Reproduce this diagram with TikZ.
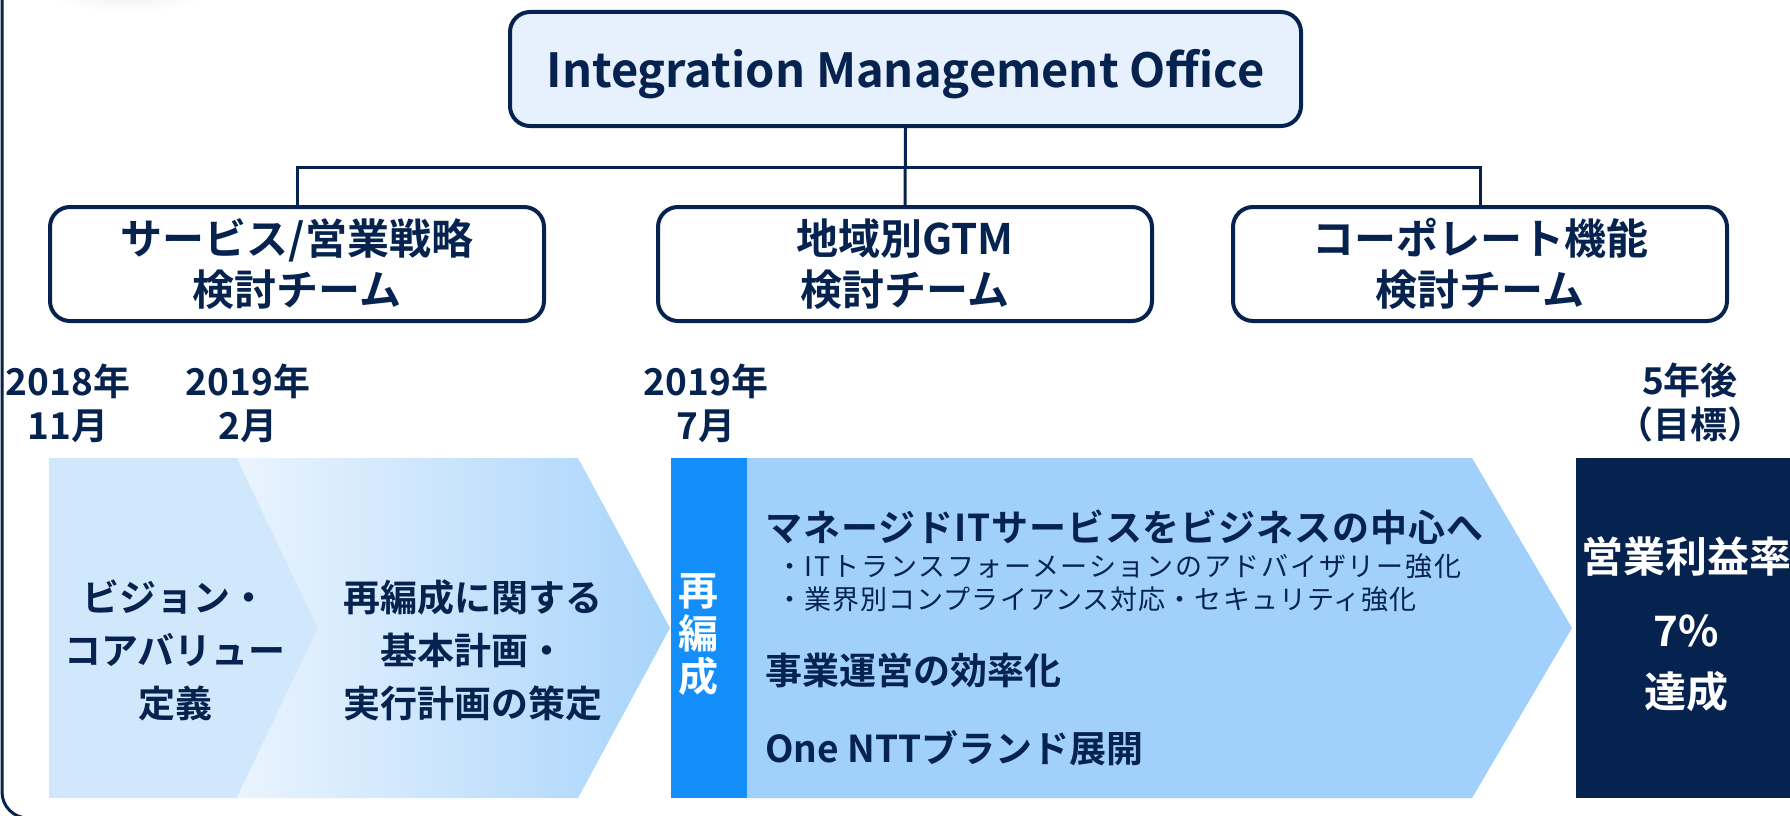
\documentclass[tikz,border=0pt]{standalone}
\usepackage{fontspec}
\setmainfont{Noto Sans CJK JP}[BoldFont={* Bold}]
\newcommand{\myfs}[2]{\fontsize{#1}{#2}\selectfont}
\definecolor{navy}{HTML}{06224F}
\definecolor{imofill}{HTML}{E6F1FD}
\definecolor{chevA}{HTML}{D1E7FC}
\definecolor{chevBl}{HTML}{EAF4FE}
\definecolor{chevBr}{HTML}{A8D4FB}
\definecolor{barblue}{HTML}{138EFB}
\definecolor{chevC}{HTML}{A0D0FB}
\tikzset{
  imobox/.style={draw=navy, line width=4pt, fill=imofill, rounded corners=20pt,
    minimum width=791pt, minimum height=114pt, inner sep=0pt,
    font=\bfseries\myfs{47}{56}, text=navy},
  teambox/.style={draw=navy, line width=4pt, fill=white, rounded corners=20pt,
    minimum width=494pt, minimum height=114pt, align=center, inner sep=0pt,
    font=\bfseries\myfs{42}{51}, text=navy},
  datelbl/.style={align=center, font=\bfseries\myfs{37}{44}, text=navy, inner sep=0pt},
  chevtxt/.style={align=center, font=\bfseries\myfs{37}{53}, text=navy, inner sep=0pt},
  bodyt/.style={anchor=west, font=\bfseries\myfs{37}{44}, text=navy, inner sep=0pt},
  subt/.style={anchor=west, font=\myfs{27}{32}, text=navy, inner sep=0pt},
  goal/.style={font=\bfseries\myfs{42}{50}, text=white, inner sep=0pt},
  conn/.style={draw=navy, line width=3pt},
}
\begin{document}
\begin{tikzpicture}[x=1pt,y=-1pt]
\useasboundingbox (0,0) rectangle (1790,816);
\fill[white] (0,0) rectangle (1790,816);
% faint shape at top left
\shade[inner color=black!6, outer color=white] (128,-6) ellipse (80 and 18);
% outer frame
\draw[navy, line width=3pt, rounded corners=26pt] (2,-20) -- (2,818) -- (300,818);

% top org chart
\node[imobox] (imo) at (905.5,69) {\raisebox{-19pt}[0pt][0pt]{Integration Management Office}};
\node[teambox] (t1) at (297,264) {サービス/営業戦略\\検討チーム};
\node[teambox] (t2) at (905,264) {地域別GTM\\検討チーム};
\node[teambox] (t3) at (1480,264) {コーポレート機能\\検討チーム};
\coordinate (hub) at (905,167);
\draw[conn] (imo.south) -- (t2.north);
\draw[conn] (t1.north) -- (t1.north |- hub) -- (t3.north |- hub) -- (t3.north);

% dates
\node[datelbl] (d1) at (68,403) {2018年\\11月};
\node[datelbl] (d2) at (248,403) {2019年\\2月};
\node[datelbl] (d3) at (706,403) {2019年\\7月};
\node[datelbl] (d4) at (1690,403) {5年後\\（目標）};

% process shapes
\fill[chevA] (49,458) -- (237,458) -- (318,628) -- (237,798) -- (49,798) -- cycle;
\shade[left color=chevBl, right color=chevBr] (237,458) -- (578,458) -- (670,628) -- (578,798) -- (237,798) -- (318,628) -- cycle;
\fill[barblue] (671,458) rectangle (747,798);
\fill[chevC] (747,458) -- (1472,458) -- (1572,628) -- (1472,798) -- (747,798) -- cycle;
\fill[navy] (1576,458) rectangle (1790,798);

% texts in shapes
\node[chevtxt] (p1) at (175,650) {ビジョン・\\コアバリュー\\定義};
\node[chevtxt] (p2) at (473,650) {再編成に関する\\基本計画・\\実行計画の策定};
\node[font=\bfseries\myfs{40}{43}, text=white, align=center, inner sep=0pt] (re) at (698,635) {再\\編\\成};
\node[bodyt] (b1) at (765,527) {\addfontfeature{LetterSpace=2.5}マネージドITサービスをビジネスの中心へ};
\node[subt] (s1) at (776,566) {\addfontfeature{LetterSpace=6.5}・ITトランスフォーメーションのアドバイザリー強化};
\node[subt] (s2) at (776,599) {\addfontfeature{LetterSpace=4}・業界別コンプライアンス対応・セキュリティ強化};
\node[bodyt] (b2) at (765,670) {事業運営の効率化};
\node[bodyt] (b3) at (765,748) {One NTTブランド展開};
\node[goal] (g1) at (1686,557) {営業利益率};
\node[goal] (g2) at (1686,631) {7\%};
\node[goal] (g3) at (1686,692) {達成};
\end{tikzpicture}
\end{document}
